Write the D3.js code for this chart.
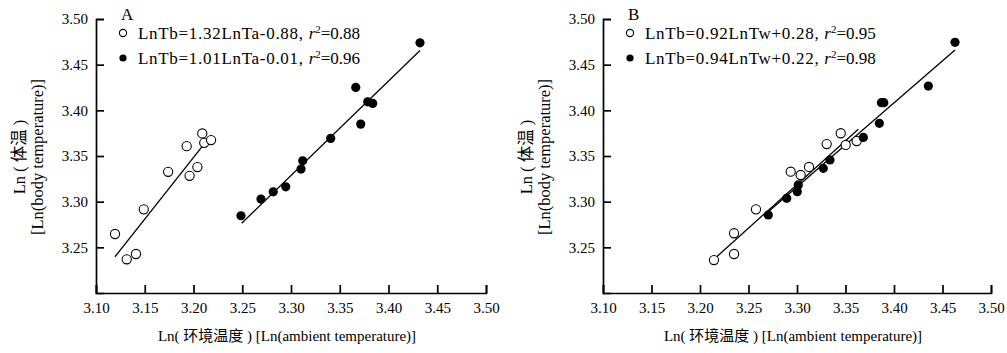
<!DOCTYPE html>
<html>
<head>
<meta charset="utf-8">
<script src="https://cdn.jsdelivr.net/npm/d3@7"></script>
<style>
  body { margin: 0; background: #fff; }
  svg { font-family: "Liberation Serif", "Times New Roman", "Noto Sans CJK SC", serif; }
</style>
</head>
<body>
<svg id="chart" width="1007" height="353"></svg>
<script>
const xTicks = [3.10, 3.15, 3.20, 3.25, 3.30, 3.35, 3.40, 3.45, 3.50];
const yTicks = [3.25, 3.30, 3.35, 3.40, 3.45, 3.50];

// panel A: Tb vs Ta
const aOpenX = [3.1195, 3.1315, 3.141, 3.149, 3.174, 3.193, 3.196, 3.204, 3.209, 3.211, 3.218];
const aOpenY = [3.2646, 3.2369, 3.2427, 3.2916, 3.3327, 3.3608, 3.3283, 3.3379, 3.3747, 3.3644, 3.3674];
const aFillX = [3.2487, 3.2692, 3.2818, 3.2946, 3.3103, 3.3120, 3.3407, 3.3664, 3.3715, 3.3787, 3.3838, 3.4323];
const aFillY = [3.2846, 3.3028, 3.3108, 3.3163, 3.3357, 3.3447, 3.3693, 3.4251, 3.3849, 3.4093, 3.4076, 3.4739];
const aOpenFit = [[3.1195, 3.2397], [3.2100, 3.3619]];
const aFillFit = [[3.2494, 3.2763], [3.4323, 3.4656]];

// panel B: Tb vs Tw
const bOpenX = [3.2144, 3.2351, 3.2351, 3.2577, 3.2935, 3.3038, 3.3124, 3.3306, 3.3451, 3.3502, 3.3615];
const bOpenY = [3.2361, 3.2654, 3.2427, 3.2916, 3.3328, 3.3292, 3.3380, 3.3631, 3.3749, 3.3621, 3.3664];
const bFillX = [3.2704, 3.2894, 3.3003, 3.3013, 3.3271, 3.3340, 3.3684, 3.3849, 3.3870, 3.3895, 3.4354, 3.4629];
const bFillY = [3.2854, 3.3037, 3.3109, 3.3183, 3.3365, 3.3456, 3.3703, 3.3858, 3.4084, 3.4084, 3.4266, 3.4745];
const bOpenFit = [[3.2155, 3.2380], [3.3632, 3.3792]];
const bFillFit = [[3.2704, 3.2890], [3.4629, 3.4661]];

const panels = [
  {
    tag: "A", left: 96, right: 486,
    open: d3.zip(aOpenX, aOpenY), fill: d3.zip(aFillX, aFillY),
    openFit: aOpenFit, fillFit: aFillFit,
    leg: [["LnTb=1.32LnTa-0.88, ", "0.88"], ["LnTb=1.01LnTa-0.01, ", "0.96"]],
  },
  {
    tag: "B", left: 603, right: 991,
    open: d3.zip(bOpenX, bOpenY), fill: d3.zip(bFillX, bFillY),
    openFit: bOpenFit, fillFit: bFillFit,
    leg: [["LnTb=0.92LnTw+0.28, ", "0.95"], ["LnTb=0.94LnTw+0.22, ", "0.98"]],
  },
];

const svg = d3.select("#chart");
const plotTop = 19, plotBottom = 293;

function styleAxis(a) {
  a.attr("font-family", null).attr("font-size", null);
  a.selectAll("text").attr("font-size", 15).attr("fill", "#000");
  a.selectAll("line,path").attr("stroke", "#000").attr("stroke-width", 1.7);
}

panels.forEach((p) => {
  const x = d3.scaleLinear().domain([3.10, 3.50]).range([p.left, p.right]);
  const y = d3.scaleLinear().domain([3.20, 3.50]).range([plotBottom, plotTop]);
  const g = svg.append("g");

  g.append("g")
    .attr("transform", `translate(0,${plotBottom})`)
    .call(d3.axisBottom(x).tickValues(xTicks).tickFormat(d3.format(".2f"))
      .tickSize(-8).tickSizeOuter(-8).tickPadding(9))
    .call(styleAxis);

  g.append("g")
    .attr("transform", `translate(${p.left},0)`)
    .call(d3.axisLeft(y).tickValues(yTicks).tickFormat(d3.format(".2f"))
      .tickSize(-8).tickSizeOuter(-8).tickPadding(8))
    .call(styleAxis);

  // fit lines
  const line = d3.line().x((d) => x(d[0])).y((d) => y(d[1]));
  [p.openFit, p.fillFit].forEach((f) => {
    g.append("path").attr("d", line(f)).attr("fill", "none")
      .attr("stroke", "#000").attr("stroke-width", 1.3);
  });

  g.append("g").selectAll("circle").data(p.open).join("circle")
    .attr("cx", (d) => x(d[0])).attr("cy", (d) => y(d[1])).attr("r", 4.6)
    .attr("fill", "#fff").attr("stroke", "#000").attr("stroke-width", 1.1);

  g.append("g").selectAll("circle").data(p.fill).join("circle")
    .attr("cx", (d) => x(d[0])).attr("cy", (d) => y(d[1])).attr("r", 4.6)
    .attr("fill", "#000");

  // panel tag + legend
  g.append("text").attr("x", p.left + 25).attr("y", 20)
    .attr("font-size", 17).text(p.tag);

  p.leg.forEach((l, i) => {
    const ly = 33 + i * 25;
    const c = g.append("circle").attr("cx", p.left + 27).attr("cy", ly).attr("r", 3.6);
    if (i === 0) c.attr("fill", "#fff").attr("stroke", "#000").attr("stroke-width", 1.1);
    else c.attr("fill", "#000");
    const t = g.append("text").attr("x", p.left + 42).attr("y", ly + 5.5).attr("font-size", 17);
    t.append("tspan").attr("letter-spacing", 0.7).text(l[0]);
    t.append("tspan").attr("font-style", "italic").text("r");
    t.append("tspan").attr("font-size", 11).attr("dy", -6).text("2");
    t.append("tspan").attr("dy", 6).text("=" + l[1]);
  });

  // axis titles
  const cx = (p.left + p.right) / 2 - 4;
  g.append("text").attr("x", cx).attr("y", 341).attr("text-anchor", "middle")
    .attr("font-size", 15).text("Ln( 环境温度 ) [Ln(ambient temperature)]");

  const yl = g.append("g").attr("transform", `translate(${p.left - 71},157) rotate(-90)`);
  yl.append("text").attr("x", 0).attr("y", 0).attr("text-anchor", "middle")
    .attr("font-size", 16.5).text("Ln ( 体温 )");
  yl.append("text").attr("x", 0).attr("y", 17.5).attr("text-anchor", "middle")
    .attr("font-size", 16.5).text("[Ln(body temperature)]");
});
</script>
</body>
</html>
